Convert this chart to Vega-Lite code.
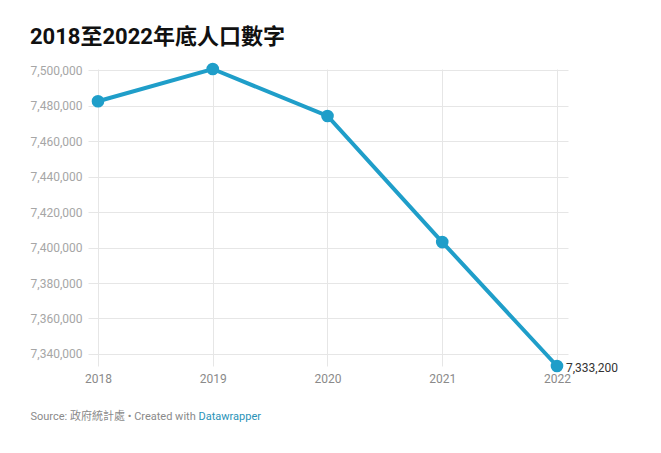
{
  "$schema": "https://vega.github.io/schema/vega-lite/v6.json",
  "autosize": {"type": "none"},
  "width": 480,
  "height": 297,
  "padding": {"left": 88, "top": 69, "right": 93, "bottom": 87},
  "background": "white",
  "config": {
    "font": "Roboto, Noto Sans CJK TC",
    "view": {"stroke": null}
  },
  "title": {
    "text": "2018至2022年底人口數字",
    "anchor": "start",
    "frame": "group",
    "dx": -58,
    "offset": 12,
    "fontSize": 22,
    "fontWeight": "bold",
    "color": "#111111",
    "font": "Roboto, Noto Sans CJK TC"
  },
  "data": {
    "values": [
      {"year": 2018, "population": 7482500},
      {"year": 2019, "population": 7500700},
      {"year": 2020, "population": 7474200},
      {"year": 2021, "population": 7403100},
      {"year": 2022, "population": 7333200}
    ]
  },
  "resolve": {"axis": {"x": "independent", "y": "independent"}},
  "layer": [
    {
      "mark": {"type": "line", "color": "#1f9ec9", "strokeWidth": 4},
      "encoding": {
        "x": {
          "field": "year", "type": "quantitative",
          "scale": {"domain": [2017.913, 2022.096], "nice": false, "zero": false},
          "axis": {
            "values": [2018, 2019, 2020, 2021, 2022],
            "format": "d",
            "grid": true, "gridColor": "#e6e6e6",
            "domain": false, "ticks": false,
            "labelPadding": 7, "labelFontSize": 12, "labelColor": "#8a8a8a",
            "title": "Source: 政府統計處 • Created with",
            "titleFontSize": 11, "titleFontWeight": "normal", "titleColor": "#8a8a8a",
            "titleAnchor": "start", "titleAlign": "left", "titleBaseline": "middle",
            "titleX": -58, "titleY": 50
          }
        },
        "y": {
          "field": "population", "type": "quantitative",
          "scale": {"domain": [7333200, 7500700], "nice": false, "zero": false},
          "axis": {
            "values": [7340000, 7360000, 7380000, 7400000, 7420000, 7440000, 7460000, 7480000, 7500000],
            "format": ",d",
            "grid": true, "gridColor": "#e6e6e6",
            "domain": false, "ticks": false,
            "labelPadding": 6, "labelFontSize": 12, "labelColor": "#a6a6a6",
            "title": null
          }
        }
      }
    },
    {
      "mark": {"type": "point", "filled": true, "opacity": 1, "color": "#1f9ec9", "size": 160},
      "encoding": {
        "x": {
          "field": "year", "type": "quantitative",
          "axis": {
            "orient": "top", "labels": false, "ticks": false, "domain": false, "grid": false,
            "title": "Datawrapper",
            "titleFontSize": 11, "titleFontWeight": "normal", "titleColor": "#2a93b8",
            "titleAnchor": "start", "titleAlign": "left", "titleBaseline": "middle",
            "titleX": 110, "titleY": 347
          }
        },
        "y": {"field": "population", "type": "quantitative", "axis": null}
      }
    },
    {
      "transform": [{"filter": "datum.year == 2022"}],
      "mark": {"type": "text", "align": "left", "baseline": "middle", "dx": 9, "dy": 2, "fontSize": 12, "color": "#333333"},
      "encoding": {
        "x": {"field": "year", "type": "quantitative", "axis": null},
        "y": {"field": "population", "type": "quantitative", "axis": null},
        "text": {"field": "population", "type": "quantitative", "format": ",d"}
      }
    }
  ]
}
